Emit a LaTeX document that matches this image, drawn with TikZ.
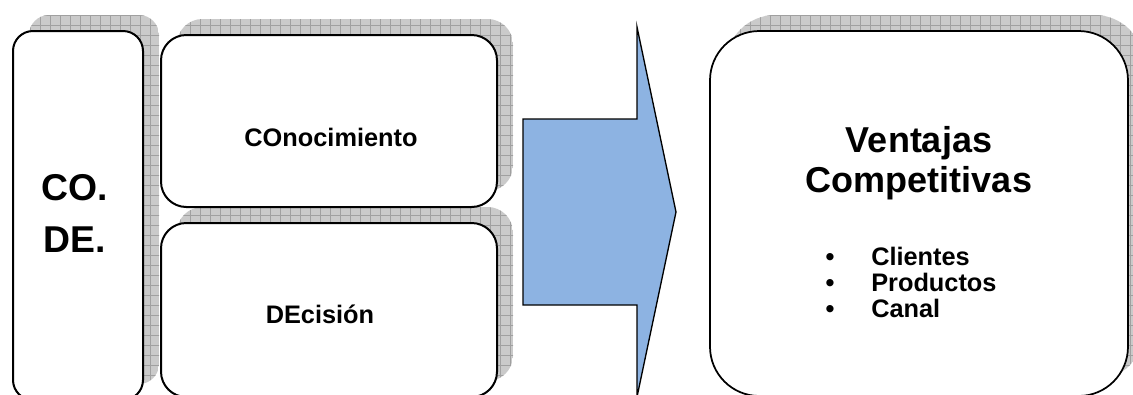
\documentclass[tikz,border=0pt]{standalone}
\usepackage{fontspec}
\setmainfont{Liberation Sans}
\definecolor{arrowblue}{RGB}{141,179,226}
\definecolor{shadowfill}{RGB}{202,202,202}
\definecolor{shadowgrid}{RGB}{160,160,160}

% drop shadow: rounded box offset up-right, filled grey with a fine grid
\newcommand\panelshadow[5]{%
  \begin{scope}
    \clip[rounded corners=#5] (#1+16,#2-16) rectangle (#3+16,#4-16);
    \fill[shadowfill] (#1+16,#2-16) rectangle (#3+16,#4-16);
    \foreach \gx in {0,10,...,1150}
      \draw[shadowgrid, line width=0.35pt] (\gx,0) -- (\gx,420);
    \foreach \gy in {5,15,...,415}
      \draw[shadowgrid, line width=0.35pt] (0,\gy) -- (1150,\gy);
  \end{scope}}

\tikzset{
  panel/.style={draw=black, fill=white, line width=1.5pt},
  bigpanel/.style={draw=black, fill=white, line width=1.3pt},
  codetext/.style={font={\fontsize{28}{39}\selectfont\bfseries}, align=center, inner sep=0pt},
  bigtext/.style={font={\fontsize{27}{30}\selectfont\bfseries}, align=center, inner sep=0pt},
  smalltext/.style={font={\fontsize{19}{22}\selectfont\bfseries}, inner sep=0pt},
  arrowshape/.style={draw=black, fill=arrowblue, line width=1pt, line join=miter}
}

\begin{document}
\begin{tikzpicture}[x=0.75pt, y=-0.75pt]
  \useasboundingbox (0,0) rectangle (1133,394);
  \clip (0,0) rectangle (1133,394);

  % shadows
  \panelshadow{13}{31}{143}{400}{15pt}
  \panelshadow{161}{35}{497}{207}{19pt}
  \panelshadow{161}{223}{497}{397}{19pt}
  \panelshadow{710}{31}{1128}{396}{37pt}

  % panels
  \draw[panel, rounded corners=15pt] (13,31) rectangle (143,400);
  \draw[panel, rounded corners=19pt] (161,35) rectangle (497,207);
  \draw[panel, rounded corners=19pt] (161,223) rectangle (497,397);
  \draw[bigpanel, rounded corners=37pt] (710,31) rectangle (1128,396);

  % block arrow
  \draw[arrowshape] (523,119) -- (637,119) -- (637,27) -- (676,212)
    -- (637,397) -- (637,305) -- (523,305) -- cycle;

  % texts
  \node[codetext] (code) at (75,213) {CO.\\DE.};
  \node[smalltext, anchor=base] (con) at (331,146) {COnocimiento};
  \node[smalltext, anchor=base] (dec) at (320,323) {DEcisión};
  \node[bigtext] (title) at (919,163) {Ventajas\\Competitivas};

  \node[smalltext, anchor=base] (b1) at (830,265) {\textbullet};
  \node[smalltext, anchor=base] (b2) at (830,291) {\textbullet};
  \node[smalltext, anchor=base] (b3) at (830,317) {\textbullet};
  \node[smalltext, anchor=base west] (i1) at (871,265) {Clientes};
  \node[smalltext, anchor=base west] (i2) at (871,291) {Productos};
  \node[smalltext, anchor=base west] (i3) at (871,317) {Canal};
\end{tikzpicture}
\end{document}
